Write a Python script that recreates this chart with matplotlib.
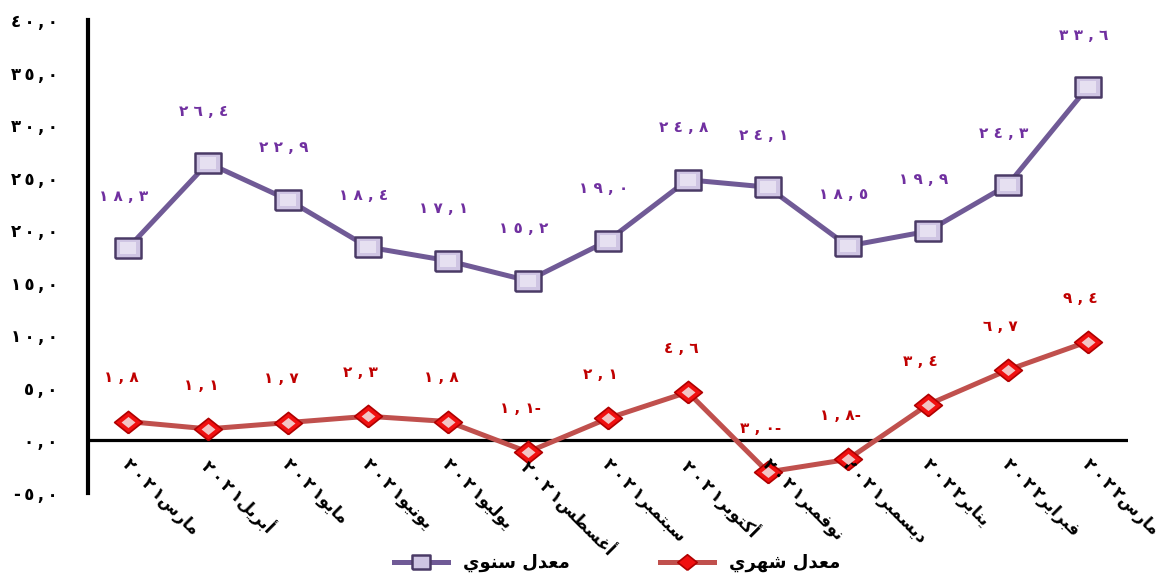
import matplotlib
matplotlib.use('Agg')
import matplotlib.pyplot as plt

# data
months = ['مارس', 'أبريل', 'مايو', 'يونيو', 'يوليو', 'أغسطس', 'سبتمبر',
          'أكتوبر', 'نوفمبر', 'ديسمبر', 'يناير', 'فبراير', 'مارس']
years = [2021] * 10 + [2022] * 3
annual = [18.3, 26.4, 22.9, 18.4, 17.1, 15.2, 19.0, 24.8, 24.1, 18.5, 19.9, 24.3, 33.6]
monthly = [1.8, 1.1, 1.7, 2.3, 1.8, -1.1, 2.1, 4.6, -3.0, -1.8, 3.4, 6.7, 9.4]
yticks = [-5, 0, 5, 10, 15, 20, 25, 30, 35, 40]
series_names = ['معدل سنوي', 'معدل شهري']

# minimal arabic shaping (no reshaper available): presentation forms iso/fin/ini/med
FORMS = {
    'ا': ('\ufe8d', '\ufe8e', None, None),
    'أ': ('\ufe83', '\ufe84', None, None),
    'ب': ('\ufe8f', '\ufe90', '\ufe91', '\ufe92'),
    'ت': ('\ufe95', '\ufe96', '\ufe97', '\ufe98'),
    'د': ('\ufea9', '\ufeaa', None, None),
    'ر': ('\ufead', '\ufeae', None, None),
    'س': ('\ufeb1', '\ufeb2', '\ufeb3', '\ufeb4'),
    'ش': ('\ufeb5', '\ufeb6', '\ufeb7', '\ufeb8'),
    'ط': ('\ufec1', '\ufec2', '\ufec3', '\ufec4'),
    'ع': ('\ufec9', '\ufeca', '\ufecb', '\ufecc'),
    'غ': ('\ufecd', '\ufece', '\ufecf', '\ufed0'),
    'ف': ('\ufed1', '\ufed2', '\ufed3', '\ufed4'),
    'ك': ('\ufed9', '\ufeda', '\ufedb', '\ufedc'),
    'ل': ('\ufedd', '\ufede', '\ufedf', '\ufee0'),
    'م': ('\ufee1', '\ufee2', '\ufee3', '\ufee4'),
    'ن': ('\ufee5', '\ufee6', '\ufee7', '\ufee8'),
    'ه': ('\ufee9', '\ufeea', '\ufeeb', '\ufeec'),
    'و': ('\ufeed', '\ufeee', None, None),
    'ي': ('\ufef1', '\ufef2', '\ufef3', '\ufef4'),
}


def shape(text):
    out = []
    for i, ch in enumerate(text):
        if ch not in FORMS:
            out.append(ch)
            continue
        prev = text[i - 1] if i > 0 else ''
        nxt = text[i + 1] if i + 1 < len(text) else ''
        join_prev = prev in FORMS and FORMS[prev][2] is not None
        join_next = FORMS[ch][2] is not None and nxt in FORMS
        iso, fin, ini, med = FORMS[ch]
        if join_prev and join_next:
            out.append(med)
        elif join_prev:
            out.append(fin)
        elif join_next:
            out.append(ini)
        else:
            out.append(iso)
    return ''.join(reversed(out))


def ar_digits(s, gap='\u2009'):
    s = s.translate(str.maketrans('0123456789.', '٠١٢٣٤٥٦٧٨٩,'))
    return gap.join(s)


def val_label(v):
    s = ar_digits(f'{abs(v):.1f}', ' ')
    return s + '-' if v < 0 else s


plt.rcParams['font.family'] = ['DejaVu Sans']

fig = plt.figure(figsize=(11.71, 5.80), dpi=100)
ax = fig.add_axes([0.0751, 0.150, 0.8879, 0.8155])

x = list(range(len(months)))
purple = '#705A96'
red = '#C0504D'
rect = [(-1, -0.77), (1, -0.77), (1, 0.77), (-1, 0.77), (-1, -0.77)]
diam = [(0, -0.8), (1, 0), (0, 0.8), (-1, 0), (0, -0.8)]

ax.axhline(0, color='black', lw=2.3, zorder=1)

l1, = ax.plot(x, annual, color=purple, lw=3.6, marker=rect, markersize=19,
              markerfacecolor='#CFC5E3', markeredgecolor='#4A3A66', markeredgewidth=1.8,
              label=shape(series_names[0]), zorder=3)
ax.plot(x, annual, ls='none', marker=rect, markersize=11,
        markerfacecolor='#E6E0F1', markeredgewidth=0, zorder=4)

l2, = ax.plot(x, monthly, color=red, lw=3.6, marker=diam, markersize=20,
              markerfacecolor='#F01010', markeredgecolor='#B00000', markeredgewidth=1.2,
              label=shape(series_names[1]), zorder=3)
ax.plot(x, monthly, ls='none', marker=diam, markersize=10,
        markerfacecolor='#F2C4C4', markeredgewidth=0, zorder=4)

for i, v in enumerate(annual):
    ax.annotate(val_label(v), (i, v), xytext=(-3, 32), textcoords='offset points',
                ha='center', va='bottom', fontsize=11, fontweight='bold', color='#7030A0')
for i, v in enumerate(monthly):
    ax.annotate(val_label(v), (i, v), xytext=(-5, 26), textcoords='offset points',
                ha='center', va='bottom', fontsize=11, fontweight='bold', color='#C00000')

# category labels hang below the zero line
for i, (m, y) in enumerate(zip(months, years)):
    ax.annotate(ar_digits(str(y)) + shape(m), (i, 0), xytext=(3, -11),
                textcoords='offset points', rotation=-45, rotation_mode='anchor',
                ha='left', va='top', fontsize=12, fontweight='bold', color='black')

ax.set_xlim(-0.5, len(months) - 0.5)
ax.set_ylim(-5, 40)
ax.set_xticks([])
ax.set_yticks(yticks)
ax.set_yticklabels([ar_digits(f'{t:.1f}') for t in yticks], fontsize=12, fontweight='bold')
ax.tick_params(axis='y', length=0, pad=22)
for s in ['top', 'right', 'bottom']:
    ax.spines[s].set_visible(False)
ax.spines['left'].set_linewidth(3)

fig.legend(handles=[l1, l2], loc='lower center', bbox_to_anchor=(0.527, -0.015), ncol=2,
           frameon=False, markerscale=0.7, handlelength=3, columnspacing=5,
           prop={'size': 13, 'weight': 'bold'})

fig.savefig('out.png', dpi=100)
